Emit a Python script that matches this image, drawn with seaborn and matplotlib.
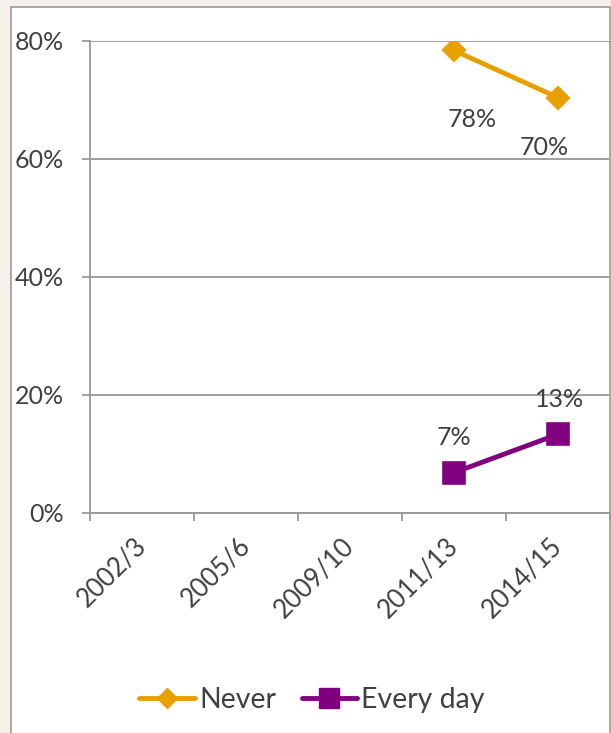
import matplotlib
matplotlib.use("Agg")
import matplotlib.pyplot as plt
from matplotlib.patches import Rectangle
from matplotlib.lines import Line2D
from matplotlib.ticker import FixedLocator
from matplotlib.transforms import ScaledTranslation
import numpy as np
import pandas as pd
import seaborn as sns

# Survey waves and shares of respondents
years = ["2002/3", "2005/6", "2009/10", "2011/13", "2014/15"]
never = [np.nan, np.nan, np.nan, 0.784, 0.704]
every_day = [np.nan, np.nan, np.nan, 0.068, 0.133]
series_names = ["Never", "Every day"]
y_ticks = [0.0, 0.2, 0.4, 0.6, 0.8]

# label offsets (points) for each data label: (dx, dy)
never_offsets = [(13, -50), (-10, -36)]
every_offsets = [(0, 25), (1, 25)]

ORANGE = "#E8A000"
PURPLE = "#800080"
GRID = "#999999"
TEXT = "#404040"

df = pd.DataFrame({
    "year": years * 2,
    "value": never + every_day,
    "series": [series_names[0]] * len(years) + [series_names[1]] * len(years),
})
df = df.dropna()

sns.set_theme(style="white")
plt.rcParams["font.family"] = ["Lato", "DejaVu Sans"]

W, H, DPI = 611, 733, 100
fig = plt.figure(figsize=(W / DPI, H / DPI), dpi=DPI)
fig.patch.set_facecolor("#f7f0ea")

# white chart panel with grey border
panel = Rectangle((11 / W, -0.01), (610 - 11) / W, (H - 7) / H + 0.01,
                  transform=fig.transFigure, facecolor="white",
                  edgecolor="#9a9a9a", linewidth=1.2, zorder=-10)
fig.patches.append(panel)

ax = fig.add_axes([90 / W, (H - 512.7) / H, (610 - 90) / W, (512.7 - 41) / H])
ax.set_facecolor("none")

sns.pointplot(data=df, x="year", y="value", hue="series", order=years,
              hue_order=series_names, palette=[ORANGE, PURPLE],
              markers=["D", "s"], linestyles=["-", "-"], errorbar=None,
              markersize=10, linewidth=3.5, ax=ax, legend=False)

# diamond and square markers need different nominal sizes
for line in ax.lines:
    if line.get_marker() == "s":
        line.set_markersize(14)
    elif line.get_marker() == "D":
        line.set_markersize(10)

ax.set_xlim(-0.5, len(years) - 0.5)
ax.set_ylim(0, 0.8)
ax.set_yticks(y_ticks)
ax.set_yticklabels([f"{int(round(t * 100))}%" for t in y_ticks])
ax.grid(axis="y", color=GRID, linewidth=1.3)
ax.grid(axis="x", visible=False)
ax.set_axisbelow(True)

ax.set_xticks(range(len(years)))
ax.set_xticklabels(years, rotation=45, ha="right", rotation_mode="anchor",
                   va="center")
shift = ScaledTranslation(7 / DPI, 0, fig.dpi_scale_trans)
for lbl in ax.get_xticklabels():
    lbl.set_transform(lbl.get_transform() + shift)
ax.xaxis.set_minor_locator(FixedLocator(np.arange(-0.5, len(years), 1.0)))
ax.tick_params(axis="x", which="major", length=0, pad=21, labelsize=18.5,
               labelcolor=TEXT)
ax.tick_params(axis="x", which="minor", length=5.8, width=1.3, color=GRID,
               direction="out", bottom=True)
ax.tick_params(axis="y", length=5.8, width=1.3, color=GRID, pad=13,
               labelsize=18, labelcolor=TEXT, left=True)
ax.set_xlabel("")
ax.set_ylabel("")

for side in ["top", "right"]:
    ax.spines[side].set_visible(False)
for side in ["left", "bottom"]:
    ax.spines[side].set_color(GRID)
    ax.spines[side].set_linewidth(1.3)

# data labels
for vals, offs in [(never, never_offsets), (every_day, every_offsets)]:
    pts = [(i, v) for i, v in enumerate(vals) if not np.isnan(v)]
    for (i, v), (dx, dy) in zip(pts, offs):
        ax.annotate(f"{round(v * 100):.0f}%", (i, v), xytext=(dx, dy),
                    textcoords="offset points", ha="center", va="center",
                    fontsize=18, color=TEXT)

handles = [
    Line2D([], [], color=ORANGE, marker="D", markersize=10, linewidth=3.5),
    Line2D([], [], color=PURPLE, marker="s", markersize=14, linewidth=3.5),
]
fig.legend(handles, series_names, loc="center", bbox_to_anchor=(312 / W, 1 - 700 / H),
           ncol=2, frameon=False, fontsize=20.5, handlelength=1.95,
           handletextpad=0.15, columnspacing=0.9, labelcolor=TEXT)

fig.savefig("out.png", dpi=DPI, facecolor=fig.get_facecolor())
